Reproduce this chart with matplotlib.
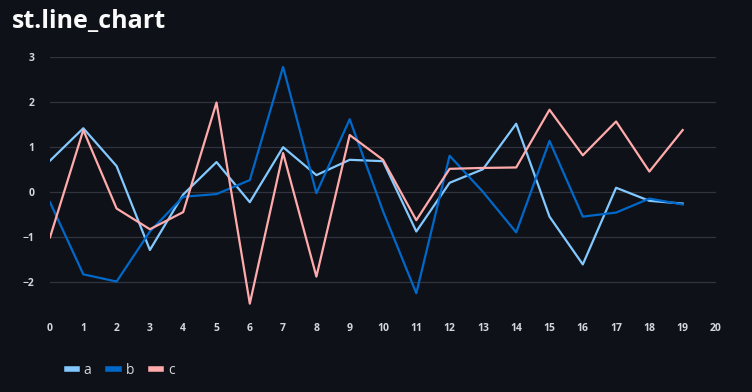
import numpy as np
import matplotlib.pyplot as plt

x = np.arange(20)
a = [0.70, 1.42, 0.58, -1.28, -0.05, 0.67, -0.22, 1.00, 0.38, 0.72,
     0.69, -0.87, 0.21, 0.51, 1.52, -0.54, -1.60, 0.10, -0.19, -0.25]
b = [-0.22, -1.82, -1.98, -0.87, -0.10, -0.04, 0.27, 2.78, -0.02, 1.62,
     -0.42, -2.24, 0.81, 0.01, -0.89, 1.14, -0.54, -0.45, -0.14, -0.27]
c = [-1.00, 1.38, -0.36, -0.82, -0.44, 1.99, -2.47, 0.87, -1.87, 1.27,
     0.72, -0.62, 0.52, 0.54, 0.55, 1.83, 0.82, 1.57, 0.46, 1.38]
names = ["a", "b", "c"]
colors = ["#83c9ff", "#0068c9", "#ffabab"]

bg = "#0e1117"
fig = plt.figure(figsize=(7.52, 3.92), dpi=100, facecolor=bg)
ax = fig.add_axes([50/752, 1 - 305/392, 666/752, 248/392], facecolor=bg)

for name, ys, col in zip(names, [a, b, c], colors):
    ax.plot(x, ys, color=col, lw=1.6, label=name)

ax.set_xlim(0, 20)
ax.set_ylim(-2.5, 3)
ax.set_xticks(range(21))
ax.set_yticks(range(-2, 4))
ax.set_yticklabels(["\u22122", "\u22121", "0", "1", "2", "3"])
ax.grid(axis="y", color="#31333f", lw=0.9)
ax.set_axisbelow(True)
for s in ax.spines.values():
    s.set_visible(False)
ax.tick_params(length=0, colors="#d5d6db", labelsize=7.5)
ax.tick_params(axis="x", pad=13)
ax.tick_params(axis="y", pad=11)
for t in ax.get_xticklabels() + ax.get_yticklabels():
    t.set_fontweight("bold")
    t.set_family("Open Sans")

fig.text(12/752, 1 - 21/392, "st.line_chart", color="#fafafa", fontsize=18,
         fontweight="bold", family="Open Sans", va="center", ha="left")

leg = fig.legend(loc="center left", bbox_to_anchor=(54/752, 1 - 370/392), ncol=3,
                 frameon=False, handlelength=0.75, handletextpad=0.5,
                 columnspacing=1.2, prop={"family": "Open Sans", "size": 10})
for h in leg.get_lines():
    h.set_linewidth(4)
for t in leg.get_texts():
    t.set_color("#d5d6db")

fig.savefig("out.png", dpi=100, facecolor=bg)
